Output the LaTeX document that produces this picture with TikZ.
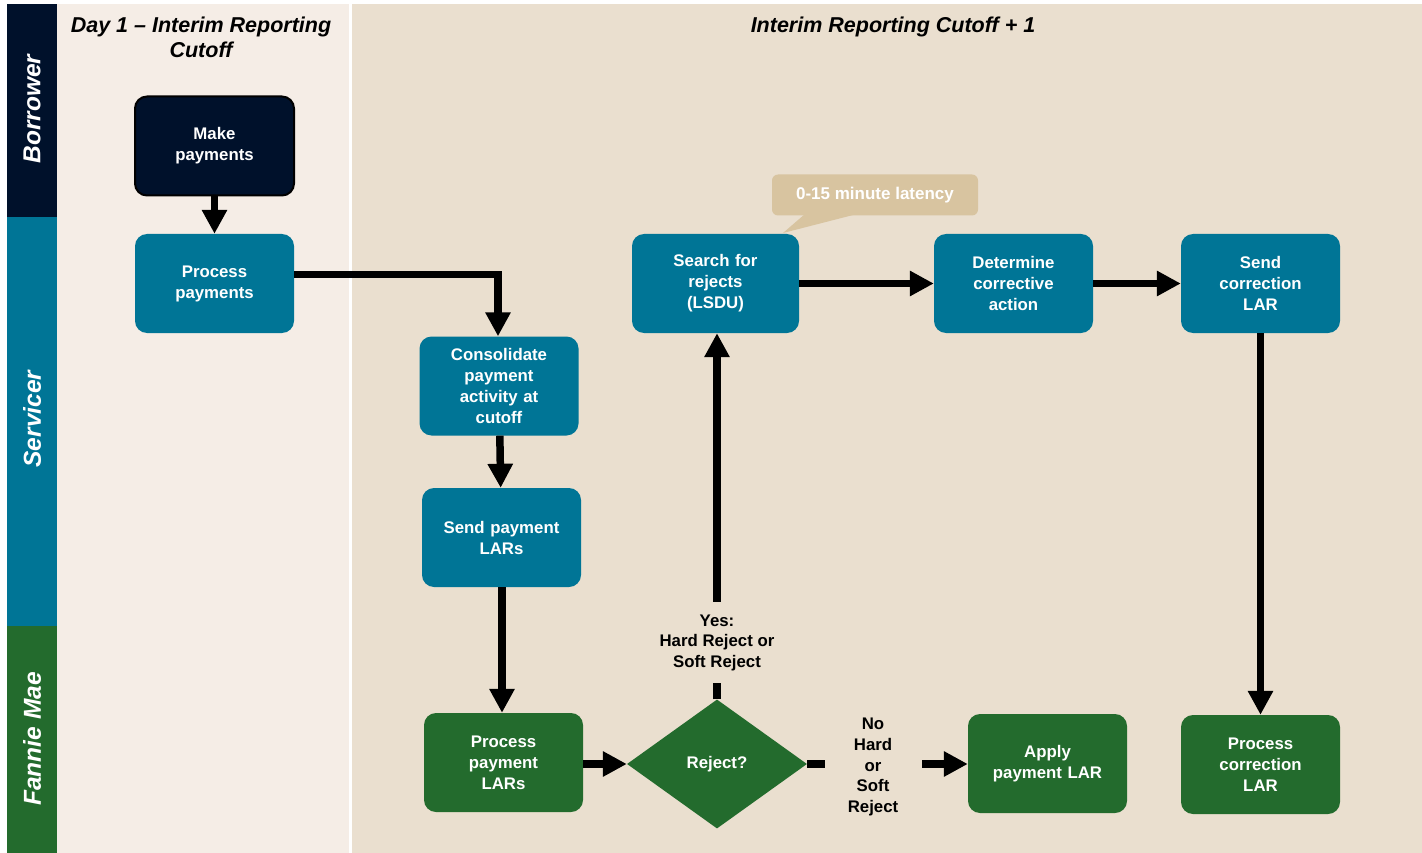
\documentclass[tikz,border=0pt]{standalone}
\usepackage{fontspec}
\setmainfont{Liberation Sans}
\usetikzlibrary{arrows.meta,shapes.geometric}
\definecolor{navy}{RGB}{0,17,43}
\definecolor{teal}{RGB}{0,117,150}
\definecolor{fmgreen}{RGB}{35,107,45}
\definecolor{leftbg}{RGB}{245,237,230}
\definecolor{rightbg}{RGB}{234,223,207}
\definecolor{callout}{RGB}{216,196,160}
\tikzset{
  box/.style={rounded corners=12pt, minimum width=159pt, minimum height=99pt, text width=155pt, align=center,
    font=\fontsize{16.8}{21}\selectfont\bfseries, text=white, inner sep=0pt},
  svc/.style={box, fill=teal},
  fm/.style={box, fill=fmgreen},
  arr/.style={line width=7.5pt, -{Triangle[length=24pt,width=24pt]}},
  lane/.style={rotate=90, text=white, font=\fontsize{24.5}{28}\selectfont\bfseries\itshape},
  hdr/.style={font=\fontsize{21.5}{25}\selectfont\bfseries\itshape, align=center},
  lbl/.style={font=\fontsize{16.8}{20.7}\selectfont\bfseries, align=center, fill=rightbg, inner sep=0pt}
}
\begin{document}
\begin{tikzpicture}[x=1pt,y=-1pt]
\useasboundingbox (0,0) rectangle (1422,853);
\fill[white] (0,0) rectangle (1422,853);
% panels
\fill[leftbg] (57,4) rectangle (349,853);
\fill[rightbg] (352,4) rectangle (1422,853);
% lanes
\fill[navy] (7,4) rectangle (57,217);
\fill[teal] (7,217) rectangle (57,626);
\fill[fmgreen] (7,626) rectangle (57,853);
\node[lane] (lb) at (32,109) {Borrower};
\node[lane] (ls) at (32,419) {Servicer};
\node[lane] (lf) at (32,739) {Fannie Mae};
% headers
\node[hdr] (h1) at (201,37) {Day 1 – Interim Reporting\\Cutoff};
\node[hdr] (h2) at (893,27) {Interim Reporting Cutoff + 1};
% callout
\fill[callout] (805,214) -- (783,233) -- (857,214) -- cycle;
\node[fill=callout, rounded corners=6pt, minimum width=206pt, minimum height=41pt, text=white,
  font=\fontsize{17}{20}\selectfont\bfseries] (co) at (875,195) {0-15 minute latency};
% nodes
\node[box, fill=navy, draw=black, line width=2pt] (make) at (214.5,146) {Make\\payments};
\node[svc] (procpay) at (214.5,283.5) {Process\\payments};
\node[svc] (consol) at (499,386) {Consolidate\\payment\\activity at\\cutoff};
\node[svc] (sendpay) at (501.5,537.5) {Send payment\\LARs};
\node[fm] (proclar) at (503.5,762.5) {Process\\payment\\LARs};
\node[diamond, fill=fmgreen, minimum width=180pt, minimum height=129pt, inner sep=0pt, aspect=1.4,
  text=white, font=\fontsize{16.8}{21}\selectfont\bfseries] (rej) at (717,764) {Reject?};
\node[fm] (apply) at (1047.5,763.5) {Apply\\payment LAR};
\node[fm] (proccorr) at (1260.5,764.5) {Process\\correction\\LAR};
\node[svc, minimum width=167pt] (search) at (715.5,283.5) {Search for\\rejects\\(LSDU)};
\node[svc] (determ) at (1013.5,283.5) {Determine\\corrective\\action};
\node[svc] (sendcorr) at (1260.5,283.5) {Send\\correction\\LAR};
\coordinate (ppout) at ([yshift=9pt]procpay.east);
% connectors
\draw[arr] (make) -- (procpay);
\draw[arr] (ppout) -| (consol.north -| 498,0);
\draw[arr] (consol) -- (sendpay);
\draw[arr] (sendpay.south -| 502,0) -- (proclar.north -| 502,0);
\draw[arr] (proclar.east |- rej.west) -- (rej.west);
\draw[arr] (rej.north) -- (search.south -| rej.north) node[lbl, pos=0.154, minimum height=81pt] (yes) {Yes:\\Hard Reject or\\Soft Reject};
\draw[arr] (rej.east) -- (apply.west |- rej.east) node[lbl, pos=0.41, minimum width=97pt, yshift=-3pt] (no) {No\\Hard\\or\\Soft\\Reject};
\draw[arr] (search) -- (determ);
\draw[arr] (determ) -- (sendcorr);
\draw[arr] (sendcorr) -- (proccorr);
\end{tikzpicture}
\end{document}
